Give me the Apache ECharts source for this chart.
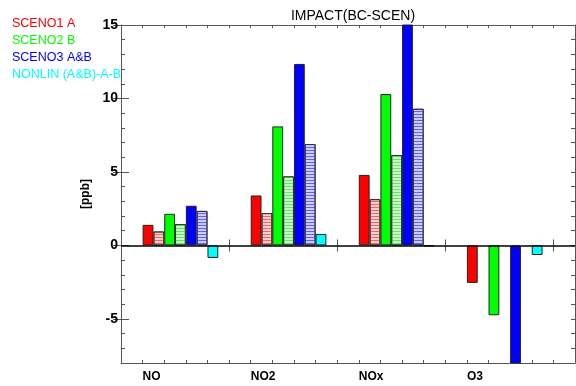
<!DOCTYPE html>
<html>
<head>
<meta charset="utf-8">
<script src="https://cdn.jsdelivr.net/npm/echarts@6/dist/echarts.min.js"></script>
<style>
html,body{margin:0;padding:0;background:#fff}
#chart{width:576px;height:386px}
</style>
</head>
<body>
<div id="chart"></div>
<script>
// species on the x axis
var species=['NO','NO2','NOx','O3']
// values in ppb (blue NOx / O3 are clipped by the axis)
var sceno1=[1.4,3.4,4.8,-2.55]
var sceno1h=[0.95,2.2,3.15,null]
var sceno2=[2.15,8.1,10.3,-4.75]
var sceno2h=[1.45,4.7,6.15,null]
var sceno3=[2.7,12.35,15.5,-8.5]
var sceno3h=[2.35,6.9,9.3,null]
var nonlin=[-0.85,0.78,-0.05,-0.65]
var yTicks=[-5,0,5,10,15]

var names=['SCENO1 A','SCENO2 B','SCENO3 A&B','NONLIN (A&B)-A-B']
var colors=['#ff0000','#00ff00','#0000ff','#00ffff']

var nSlots=42 // 4 groups of 7 bars + gaps, in bar widths
var plotW=576-121-1
var barW=plotW/nSlots

function pos(vals,k){ // k = bar slot inside the group
	return vals.map(function(v,i){return [i*10+2+k+0.5,v]})
}
function solid(name,vals,k,col){
	return {
		name:name,type:'bar',xAxisIndex:0,yAxisIndex:0,
		data:pos(vals,k),barWidth:barW,barGap:'-100%',
		itemStyle:{color:col,borderColor:'#222',borderWidth:1}
	}
}
function hatched(name,vals,k,fill,line){
	return {
		name:name,type:'bar',xAxisIndex:0,yAxisIndex:0,
		data:pos(vals,k),barWidth:barW,barGap:'-100%',
		itemStyle:{
			color:fill,borderColor:'#333',borderWidth:1,
			decal:{symbol:'rect',symbolSize:1,symbolKeepAspect:false,color:line,
				dashArrayX:[4,0],dashArrayY:[1,2],rotation:0}
		}
	}
}

var slotTicks=[]
for(var i=0;i<=nSlots;i+=2) slotTicks.push(i)
var yMinor=[]
for(var j=-8;j<=15;j++) yMinor.push(j)

var axCol='#555'
var lab={fontFamily:'Liberation Sans',fontWeight:'bold',color:'#000'}

var mychart=echarts.init(document.getElementById('chart'))
var option={
	animation:false,
	textStyle:{fontFamily:'Liberation Sans'},
	title:{
		text:'IMPACT(BC-SCEN)',left:348,textAlign:'center',top:4,
		textStyle:{fontSize:14,fontWeight:'normal',color:'#000'}
	},
	legend:{
		orient:'vertical',left:2,top:12,icon:'none',itemWidth:0,itemGap:3,
		textStyle:{fontSize:12.5,lineHeight:14},
		data:names.map(function(n,i){return {name:n,textStyle:{color:colors[i]}}})
	},
	grid:{left:121,right:1,top:25,bottom:23},
	xAxis:[
		{type:'value',position:'bottom',min:0,max:nSlots,
			axisLine:{show:true,onZero:false,lineStyle:{color:axCol}},
			axisTick:{show:true,inside:true,length:3,customValues:slotTicks,lineStyle:{color:axCol}},
			axisLabel:Object.assign({customValues:[2,12,22,32],align:'left',margin:8,fontSize:12,
				formatter:function(v){return species[Math.round((v-2)/10)]}},lab),
			splitLine:{show:false}},
		{type:'value',position:'bottom',min:0,max:nSlots,
			axisLine:{show:false},
			axisTick:{show:true,inside:true,length:6,customValues:[10,20,30,40],lineStyle:{color:axCol}},
			axisLabel:{show:false},splitLine:{show:false}},
		{type:'value',position:'top',min:0,max:nSlots,
			axisLine:{show:true,onZero:false,lineStyle:{color:axCol}},
			axisTick:{show:true,inside:true,length:3,customValues:slotTicks,lineStyle:{color:axCol}},
			axisLabel:{show:false},splitLine:{show:false}},
		{type:'value',position:'top',min:0,max:nSlots,
			axisLine:{show:false},
			axisTick:{show:true,inside:true,length:6,customValues:[10,20,30,40],lineStyle:{color:axCol}},
			axisLabel:{show:false},splitLine:{show:false}}
	],
	yAxis:[
		{type:'value',position:'left',min:-8,max:15,
			name:'[ppb]',nameLocation:'middle',nameGap:27,nameRotate:90,
			nameTextStyle:{fontFamily:'Liberation Sans',fontWeight:'bold',fontSize:12,color:'#000'},
			axisLine:{show:true,onZero:false,lineStyle:{color:axCol}},
			axisTick:{show:true,inside:true,length:4,customValues:yMinor,lineStyle:{color:axCol}},
			axisLabel:Object.assign({customValues:yTicks,margin:3,fontSize:14},lab),
			splitLine:{show:false}},
		{type:'value',position:'left',min:-8,max:15,
			axisLine:{show:false},
			axisTick:{show:true,inside:true,length:8,customValues:yTicks,lineStyle:{color:axCol}},
			axisLabel:{show:false},splitLine:{show:false}},
		{type:'value',position:'right',min:-8,max:15,
			axisLine:{show:true,onZero:false,lineStyle:{color:axCol}},
			axisTick:{show:true,inside:true,length:4,customValues:yMinor,lineStyle:{color:axCol}},
			axisLabel:{show:false},splitLine:{show:false}},
		{type:'value',position:'right',min:-8,max:15,
			axisLine:{show:false},
			axisTick:{show:true,inside:true,length:8,customValues:yTicks,lineStyle:{color:axCol}},
			axisLabel:{show:false},splitLine:{show:false}}
	],
	series:[
		solid(names[0],sceno1,0,'#ff0000'),
		hatched('SCENO1 A diff',sceno1h,1,'#ffd0d0','#ff6060'),
		solid(names[1],sceno2,2,'#00ff00'),
		hatched('SCENO2 B diff',sceno2h,3,'#ccffcc','#55f055'),
		solid(names[2],sceno3,4,'#0000ff'),
		hatched('SCENO3 A&B diff',sceno3h,5,'#ccccff','#6060ff'),
		Object.assign(solid(names[3],nonlin,6,'#00ffff'),{
			markLine:{silent:true,symbol:'none',label:{show:false},
				lineStyle:{color:'#000',width:1.5,type:'solid'},data:[{yAxis:0}]}
		})
	]
}
mychart.setOption(option)
</script>
</body>
</html>
